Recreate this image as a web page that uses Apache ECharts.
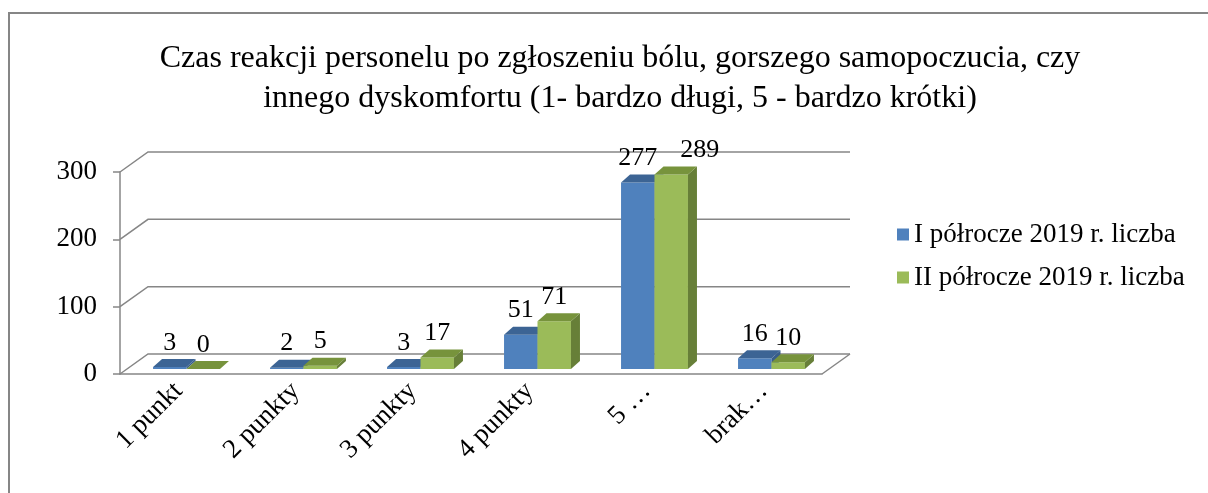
<!DOCTYPE html>
<html>
<head>
<meta charset="utf-8">
<script src="https://cdn.jsdelivr.net/npm/echarts@6/dist/echarts.min.js"></script>
<style>
  html, body { margin: 0; padding: 0; background: #fff; }
  #main { width: 1208px; height: 493px; }
</style>
</head>
<body>
<div id="main"></div>
<script>
var categories = ['1 punkt', '2 punkty', '3 punkty', '4 punkty', '5 …', 'brak…'];
var seriesNames = ['I półrocze 2019 r. liczba', 'II półrocze 2019 r. liczba'];
var firstHalf = [3, 2, 3, 51, 277, 16];
var secondHalf = [0, 5, 17, 71, 289, 10];
var yTicks = [0, 100, 200, 300];

var FONT = 'Liberation Serif, "Times New Roman", serif';
var LINE = '#868686';
var WALL = [28, -20];      // depth of the floor / back wall
var BAR_SHIFT = [8, -5];   // bars sit a bit back on the floor
var BAR_DEPTH = [9, -8];   // depth of each bar
var colors = [
  { front: '#4F81BD', top: '#3C6494', side: '#385D8A' },
  { front: '#9BBB59', top: '#77933C', side: '#677F38' }
];
var allData = [firstHalf, secondHalf];

var myChart = echarts.init(document.getElementById('main'));

// back wall gridlines + floor
function wallRenderer(params, api) {
  var cs = params.coordSys;
  var v = api.value(1);
  var y = api.coord([0, v])[1];
  var x = cs.x;
  var children = [{
    type: 'polyline',
    shape: { points: [[x, y], [x + WALL[0], y + WALL[1]], [x + cs.width + WALL[0], y + WALL[1]]] },
    style: { stroke: LINE, lineWidth: 1.5, fill: null }
  }];
  if (v === 0) {
    children.push({
      type: 'line',
      shape: { x1: x + cs.width, y1: y, x2: x + cs.width + WALL[0], y2: y + WALL[1] },
      style: { stroke: LINE, lineWidth: 1.5 }
    });
  }
  return { type: 'group', children: children };
}

function labelWidth(v) {
  return String(v).length * 13;
}

function barRenderer(si) {
  return function (params, api) {
    var idx = api.value(0), v = api.value(1);
    var top = api.coord([idx, v]);
    var base = api.coord([idx, 0]);
    var bw = api.size([1, 0])[0] * 0.286;
    var x0 = top[0] + BAR_SHIFT[0] + (si === 0 ? -bw : 0);
    var x1 = x0 + bw;
    var yb = base[1] + BAR_SHIFT[1];
    var yt = top[1] + BAR_SHIFT[1];
    var dx = BAR_DEPTH[0], dy = BAR_DEPTH[1];
    var c = colors[si];

    // push second label right if it would run into the first one
    var lx = (x0 + x1) / 2;
    if (si === 1) {
      var other = allData[0][idx];
      var otherRight = x0 - bw / 2 + labelWidth(other) / 2;
      if (lx - labelWidth(v) / 2 < otherRight + 2) lx += bw * 0.85;
    }

    return {
      type: 'group',
      children: [
        { type: 'rect', shape: { x: x0, y: yt, width: bw, height: yb - yt }, style: { fill: c.front } },
        { type: 'polygon', shape: { points: [[x1, yt], [x1 + dx, yt + dy], [x1 + dx, yb + dy], [x1, yb]] }, style: { fill: c.side } },
        { type: 'polygon', shape: { points: [[x0, yt], [x0 + dx, yt + dy], [x1 + dx, yt + dy], [x1, yt]] }, style: { fill: c.top } },
        {
          type: 'text',
          style: {
            text: String(v), x: lx, y: yt + dy - 3,
            align: 'center', verticalAlign: 'bottom',
            fontSize: 26, fontFamily: FONT, fill: '#000'
          }
        }
      ]
    };
  };
}

myChart.setOption({
  animation: false,
  backgroundColor: '#fff',
  graphic: [{
    type: 'rect', z: -10, silent: true,
    shape: { x: 9, y: 13, width: 1400, height: 800 },
    style: { fill: 'none', stroke: LINE, lineWidth: 2 }
  }],
  title: {
    text: 'Czas reakcji personelu po zgłoszeniu bólu, gorszego samopoczucia, czy\ninnego dyskomfortu (1- bardzo długi, 5 - bardzo krótki)',
    left: 615,
    top: 34,
    textAlign: 'center',
    textStyle: { fontSize: 32, fontWeight: 'normal', fontFamily: FONT, color: '#000', lineHeight: 40 }
  },
  legend: {
    data: seriesNames,
    orient: 'vertical',
    left: 897,
    top: 221,
    padding: 0,
    itemWidth: 12,
    itemHeight: 12,
    itemGap: 16,
    icon: 'rect',
    textStyle: { fontSize: 27, fontFamily: FONT, color: '#000', lineHeight: 27 }
  },
  grid: { left: 120, top: 172, width: 702, height: 202 },
  xAxis: {
    type: 'category',
    data: categories,
    boundaryGap: true,
    axisLine: { lineStyle: { color: LINE, width: 1.5 } },
    axisTick: { length: 7, lineStyle: { color: LINE, width: 1.5 } },
    axisLabel: { rotate: 45, interval: 0, margin: 13, fontSize: 27, fontFamily: FONT, color: '#000' }
  },
  yAxis: {
    type: 'value',
    min: 0,
    max: 300,
    interval: 100,
    axisLine: { show: true, lineStyle: { color: LINE, width: 1.5 } },
    axisTick: { show: true, length: 7, lineStyle: { color: LINE, width: 1.5 } },
    splitLine: { show: false },
    axisLabel: { margin: 23, fontSize: 27, fontFamily: FONT, color: '#000' }
  },
  series: [
    {
      type: 'custom',
      name: 'wall',
      silent: true,
      z: 1,
      renderItem: wallRenderer,
      data: yTicks.map(function (v) { return [0, v]; })
    },
    {
      type: 'custom',
      name: seriesNames[0],
      z: 2,
      itemStyle: { color: colors[0].front },
      renderItem: barRenderer(0),
      data: firstHalf.map(function (v, i) { return [i, v]; })
    },
    {
      type: 'custom',
      name: seriesNames[1],
      z: 3,
      itemStyle: { color: colors[1].front },
      renderItem: barRenderer(1),
      data: secondHalf.map(function (v, i) { return [i, v]; })
    }
  ]
});
</script>
</body>
</html>
